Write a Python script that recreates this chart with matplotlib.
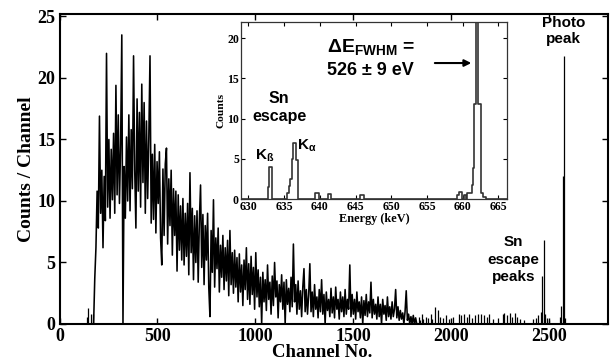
import numpy as np
import matplotlib
matplotlib.use('Agg')
import matplotlib as mpl
import matplotlib.pyplot as plt
from matplotlib import ticker

BLACK, GRAY1 = '#000000', '#333333'
SERIF, SANS = 'Liberation Serif', 'Liberation Sans'

mpl.rcParams['font.family'] = SERIF
mpl.rcParams['font.weight'] = 'bold'
mpl.rcParams['axes.labelweight'] = 'bold'
mpl.rcParams['mathtext.fontset'] = 'custom'
mpl.rcParams['mathtext.rm'] = 'Liberation Sans:bold'
mpl.rcParams['mathtext.bf'] = 'Liberation Sans:bold'
mpl.rcParams['mathtext.it'] = 'Liberation Sans:bold'

# main spectrum, every 6 channels from channel 174
spec_start, spec_step = 174, 6
spec_counts = [0.0,
    3.7, 6.2, 10.8, 7.8, 16.9, 9.0, 12.5, 6.2, 12.0, 8.4,
    22.0, 9.5, 15.0, 8.6, 14.2, 10.1, 15.5, 9.0, 19.4, 10.5,
    17.0, 9.8, 14.6, 23.5, 0.0, 12.8, 8.6, 15.2, 10.0, 17.0,
    9.2, 15.8, 11.0, 21.8, 12.5, 7.8, 18.3, 10.8, 17.2, 9.5,
    19.5, 11.5, 18.0, 9.0, 16.5, 10.2, 15.2, 21.8, 8.2, 13.8,
    8.5, 14.6, 7.4, 13.2, 9.8, 14.0, 7.0, 4.8, 12.6, 7.2,
    13.0, 14.3, 6.5, 11.8, 8.0, 12.5, 5.6, 11.0, 7.2, 10.8,
    4.3, 10.5, 6.0, 9.6, 5.2, 10.2, 4.8, 9.0, 5.5, 9.8,
    4.0, 12.3, 5.8, 9.4, 3.6, 8.8, 5.0, 9.2, 3.4, 8.4,
    11.3, 4.6, 8.9, 3.2, 8.0, 5.2, 9.0, 3.0, 0.6, 7.6,
    4.2, 10.1, 3.0, 7.0, 4.5, 7.8, 2.6, 6.4, 3.8, 7.2,
    2.8, 6.2, 3.5, 6.8, 2.3, 7.6, 3.2, 5.8, 2.5, 6.0,
    3.0, 5.4, 1.8, 5.7, 2.6, 4.8, 1.5, 5.2, 2.8, 6.2,
    2.0, 4.9, 1.6, 5.5, 2.4, 4.6, 1.2, 5.8, 2.2, 4.4,
    1.4, 3.8, 0.0, 4.2, 1.8, 3.6, 1.1, 4.8, 2.0, 3.4,
    0.8, 3.9, 1.5, 5.0, 2.2, 3.5, 0.5, 3.2, 1.8, 4.0,
    1.2, 3.4, 0.0, 3.6, 1.6, 2.9, 1.0, 3.8, 1.4, 6.5,
    1.8, 3.2, 0.8, 3.5, 1.2, 2.7, 0.6, 3.0, 4.5, 1.0,
    2.8, 0.8, 2.4, 4.9, 1.0, 2.6, 0.6, 3.2, 1.2, 2.2,
    0.5, 2.8, 1.0, 3.6, 0.8, 2.4, 0.0, 2.6, 1.1, 2.0,
    0.6, 2.9, 0.9, 2.2, 0.5, 3.0, 1.2, 2.0, 0.4, 2.6,
    1.0, 2.2, 0.6, 2.8, 0.8, 2.0, 1.2, 4.8, 0.6, 2.4,
    0.8, 2.0, 0.4, 2.6, 1.0, 1.8, 0.5, 2.2, 0.0, 1.9,
    0.7, 2.4, 0.6, 1.8, 0.9, 3.4, 0.5, 2.0, 0.8, 1.6,
    0.4, 2.2, 0.6, 1.6, 0.0, 2.0, 0.8, 1.5, 0.3, 2.2,
    0.6, 1.4, 0.4, 1.8, 0.6, 1.2, 2.8, 0.5, 1.4, 0.3,
    1.1, 0.4, 0.9, 0.0, 1.0, 2.7, 0.3, 0.8, 0.0, 0.6,
    0.0, 0.7, 0.0, 0.5, 0.0]

# isolated channels before the edge and in the high-energy tail
pre_channels = [138, 144, 162, 170]
pre_counts = [0.6, 1.3, 0.8, 0.8]
tail_channels = [1836, 1842, 1850, 1858, 1870, 1882, 1896, 1904, 1919, 1930,
                 1942, 1956, 1972, 1990, 2010, 2040, 2052, 2064, 2078, 2090,
                 2105, 2120, 2136, 2150, 2166, 2180, 2192, 2214, 2240, 2262,
                 2270, 2284, 2300, 2310, 2323, 2336, 2352, 2372, 2418, 2432,
                 2445, 2456, 2463, 2471, 2480, 2490, 2500, 2556, 2562, 2568, 2574, 2580]
tail_counts = [0.6, 0.3, 0.8, 0.4, 0.6, 0.5, 0.8, 0.4, 1.4, 1.1,
               0.6, 0.5, 0.7, 0.4, 0.6, 0.8, 0.7, 0.8, 0.6, 0.8,
               0.5, 0.7, 0.8, 0.8, 0.7, 0.6, 0.8, 0.4, 0.5, 0.8,
               0.9, 0.7, 0.9, 0.6, 0.9, 0.6, 0.4, 0.3, 0.4, 0.5,
               0.7, 1.0, 3.9, 6.8, 0.8, 0.5, 0.3, 0.6, 1.5, 12.0, 21.8, 0.5]

# inset: energy (keV) where each step starts, and its counts
inset_energy = [628.9, 632.7, 632.9, 633.3, 635.4, 635.65, 635.85, 636.05, 636.25,
                636.6, 636.9, 639.3, 639.9, 641.1, 641.55, 645.6, 646.2, 659.2,
                659.45, 659.9, 660.2, 660.4, 660.6, 661.3, 661.45, 661.6, 661.9,
                662.2, 662.55, 662.9, 663.2, 666.3]
inset_counts = [0, 1.5, 4.0, 0, 0.8, 1.6, 2.5, 5.0, 6.9,
                4.8, 0, 0.8, 0, 0.6, 0, 0.5, 0, 0.5,
                0.9, 0, 0.5, 0, 0.8, 1.7, 3.8, 11.8, 22.0,
                11.8, 0.8, 0.3, 0, 0]

fig = plt.figure(figsize=(6.16, 3.6), dpi=100)
ax = fig.add_axes([0.0966, 0.1, 0.8904, 0.8611])

spec_channels = spec_start + spec_step * np.arange(len(spec_counts))
ax.plot(spec_channels, spec_counts, color=BLACK, lw=1.15)
ax.vlines(pre_channels, 0, pre_counts, color=BLACK, lw=0.9)
ax.vlines(tail_channels, 0, tail_counts, color=BLACK, lw=0.9)

ax.set_xlim(0, 2800)
ax.set_ylim(0, 25.2)
ax.xaxis.set_major_locator(ticker.MultipleLocator(500))
ax.yaxis.set_major_locator(ticker.MultipleLocator(5))
ax.tick_params(direction='in', top=True, right=True, length=4, width=1,
               labelsize=13, pad=3)
for s in ax.spines.values():
    s.set_linewidth(1.5)
ax.set_xlabel('Channel No.', fontsize=13.5, labelpad=0)
ax.xaxis.set_label_coords(0.479, -0.066)
ax.set_ylabel('Counts / Channel', fontsize=14, labelpad=2)

ax.text(2574, 25.0, 'Photo\npeak', ha='center', va='top', family=SANS,
        fontweight='bold', fontsize=11, linespacing=1.15)
ax.text(2318, 7.2, 'Sn\nescape\npeaks', ha='center', va='top', family=SANS,
        fontweight='bold', fontsize=11, linespacing=1.3)

# inset
ins = fig.add_axes([0.3912, 0.4472, 0.4318, 0.4917])
ins.plot(inset_energy, inset_counts, drawstyle='steps-post', color=GRAY1, lw=1.2)
ins.set_xlim(628.95, 666.2)
ins.set_ylim(0, 22)
ins.xaxis.set_major_locator(ticker.MultipleLocator(5))
ins.yaxis.set_major_locator(ticker.MultipleLocator(5))
ins.tick_params(direction='in', top=True, right=True, length=3, width=0.8,
                labelsize=8.5, pad=1.5)
for s in ins.spines.values():
    s.set_linewidth(0.9)
    s.set_color(GRAY1)
ins.set_xlabel('Energy (keV)', fontsize=8.8, labelpad=0)
ins.set_ylabel('Counts', fontsize=8.2, labelpad=1)

ins.text(634.3, 13.4, 'Sn\nescape', ha='center', va='top', family=SANS,
         fontweight='bold', fontsize=11.5, linespacing=1.2)
ins.text(630.9, 4.85, r'$\mathbf{K_{ß}}$', ha='left', va='baseline', fontsize=11)
ins.text(636.75, 6.1, r'$\mathbf{K_{α}}$', ha='left', va='baseline', fontsize=11)
ins.text(641.0, 18.3, r'$\mathbf{ΔE_{FWHM}}$ =', ha='left', va='baseline',
         family=SANS, fontweight='bold', fontsize=14)
ins.text(641.0, 15.4, '526 ± 9 eV', ha='left', va='baseline', family=SANS,
         fontweight='bold', fontsize=13)
ins.annotate('', xy=(661.2, 16.9), xytext=(656.1, 16.9),
             arrowprops=dict(arrowstyle='-|>', color=BLACK, lw=1.5,
                             mutation_scale=10, shrinkA=0, shrinkB=0))

fig.savefig('out.png', dpi=100)
